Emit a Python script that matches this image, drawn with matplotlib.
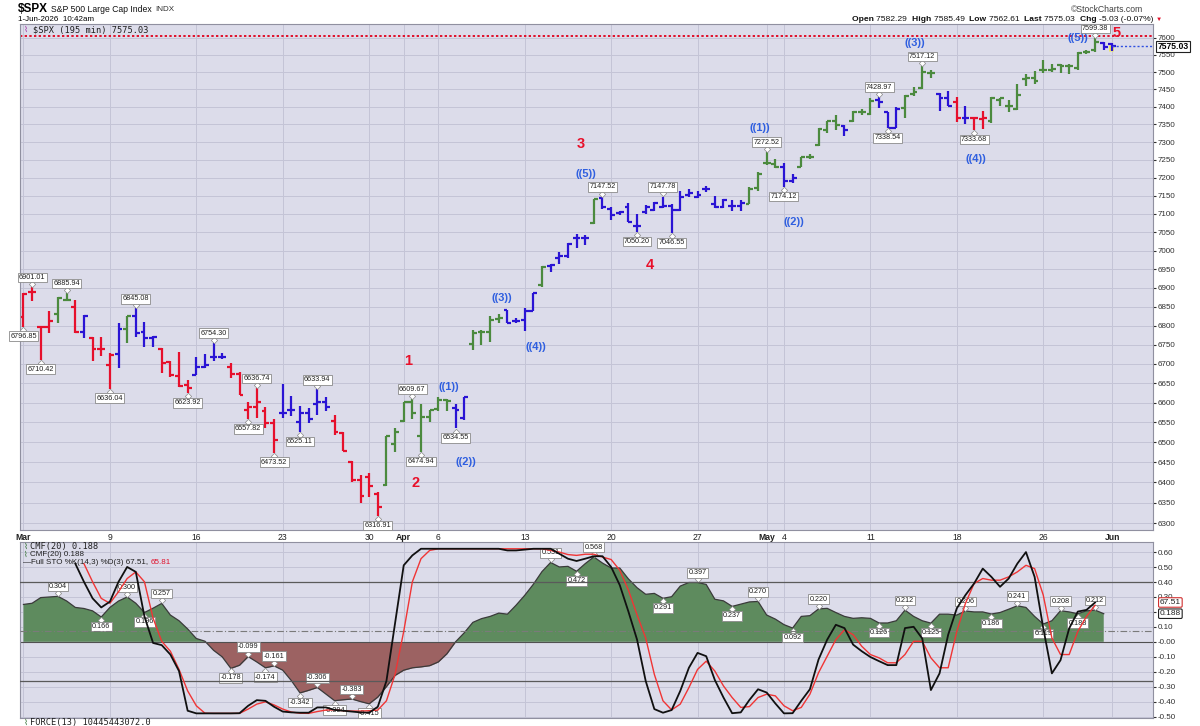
import matplotlib
matplotlib.use("Agg")
import matplotlib.pyplot as plt
from matplotlib.ticker import NullLocator, NullFormatter
from matplotlib.transforms import offset_copy
import numpy as np
import pandas as pd

plt.rcParams['font.family'] = ['Liberation Sans', 'DejaVu Sans']

###############################################################################
# data (195 min bars, 2 per session)

opens = [6822, 6890, 6797, 6797, 6831, 6868, 6849, 6784, 6767, 6738,
         6696, 6725, 6792, 6826, 6784, 6767, 6738, 6705, 6669, 6646,
         6671, 6692, 6719, 6719, 6692, 6673, 6582, 6590, 6578, 6548,
         6574, 6582, 6550, 6574, 6598, 6602, 6554, 6523, 6451, 6405,
         6414, 6372, 6394, 6495, 6554, 6602, 6515, 6563,
         6584, 6606, 6586, 6560, 6752, 6784, 6784, 6817, 6840, 6813,
         6815, 6839, 6907, 6958, 6979, 6984, 7033, 7035, 7075, 7144,
         7114, 7103, 7118, 7068, 7105, 7110, 7120, 7122, 7110, 7153,
         7147, 7168, 7126, 7120, 7122, 7122, 7128, 7172, 7240, 7238,
         7229, 7191, 7231, 7258, 7292, 7334, 7361, 7345, 7359, 7386,
         7379, 7420, 7384, 7340, 7396, 7438, 7453, 7498, 7438, 7426,
         7415, 7367, 7367, 7364, 7359, 7420, 7402, 7394, 7480, 7484,
         7505, 7507, 7520, 7517, 7513, 7559, 7566, 7586, 7582.29]
highs = [6886, 6901.01, 6800, 6838, 6876, 6885.94, 6868, 6829, 6771, 6771,
         6727, 6807, 6826, 6845.08, 6810, 6773, 6741, 6708, 6732, 6659,
         6719, 6725, 6754.30, 6727, 6703, 6680, 6602, 6636.74, 6590, 6558,
         6648, 6617, 6592, 6586, 6633.94, 6615, 6570, 6525, 6454, 6418,
         6424, 6376, 6515, 6536, 6602, 6609.67, 6598, 6582,
         6614, 6610, 6596, 6614, 6788, 6788, 6824, 6831, 6842, 6819,
         6845, 6885, 6958, 6965, 6997, 7021, 7046, 7042, 7140, 7147.52,
         7118, 7109, 7131, 7101, 7125, 7134, 7147.78, 7126, 7163, 7168,
         7163, 7176, 7148, 7142, 7137, 7137, 7174, 7216, 7272.52, 7251,
         7242, 7210, 7259, 7267, 7340, 7361, 7377, 7347, 7388, 7394,
         7425, 7428.97, 7386, 7400, 7435, 7456, 7517.12, 7505, 7441, 7447,
         7429, 7402, 7371, 7388, 7429, 7426, 7420, 7465, 7494, 7503,
         7535, 7525, 7525, 7525, 7559, 7566, 7599.38, 7589, 7585.49]
lows = [6796.85, 6864, 6710.42, 6781, 6807, 6866, 6781, 6767, 6708, 6720,
        6636.04, 6690, 6755, 6771, 6743, 6743, 6676, 6667, 6641, 6623.92,
        6671, 6688, 6708, 6712, 6663, 6619, 6557.82, 6562, 6536, 6473.52,
        6562, 6566, 6525.11, 6548, 6568, 6580, 6517, 6478, 6401, 6350,
        6364, 6316.91, 6392, 6476, 6552, 6558, 6474.94, 6550,
        6578, 6578, 6534.55, 6555, 6736, 6749, 6758, 6806, 6806, 6806,
        6786, 6838, 6902, 6943, 6963, 6979, 7006, 7015, 7073, 7114,
        7083, 7098, 7079, 7050.20, 7100, 7108, 7115, 7046.55, 7108, 7147,
        7145, 7160, 7115, 7115, 7108, 7109, 7126, 7163, 7235, 7226,
        7174.12, 7184, 7230, 7251, 7290, 7327, 7334, 7317, 7357, 7377,
        7377, 7397, 7338.54, 7339, 7369, 7432, 7450, 7484, 7388, 7402,
        7357, 7351, 7333.68, 7338, 7354, 7402, 7386, 7391, 7461, 7466,
        7498, 7501, 7498, 7495, 7505, 7554, 7559, 7564, 7562.61]
closes = [6883, 6888, 6795, 6811, 6874, 6868, 6784, 6826, 6738, 6738,
          6724, 6792, 6826, 6780, 6767, 6770, 6703, 6671, 6643, 6638,
          6692, 6696, 6719, 6717, 6673, 6621, 6590, 6602, 6548, 6505,
          6574, 6582, 6574, 6558, 6602, 6590, 6525, 6479, 6405, 6367,
          6392, 6340, 6515, 6525, 6602, 6574, 6563, 6582,
          6606, 6605, 6582, 6614, 6780, 6784, 6815, 6819, 6807, 6813,
          6838, 6885, 6956, 6960, 6984, 7017, 7033, 7035, 7140, 7118,
          7098, 7105, 7079, 7068, 7118, 7131, 7122, 7110, 7147, 7158,
          7153, 7168, 7120, 7137, 7122, 7130, 7168, 7210, 7240, 7229,
          7191, 7199, 7258, 7258, 7336, 7359, 7348, 7334, 7384, 7386,
          7418, 7415, 7340, 7394, 7432, 7444, 7501, 7498, 7424, 7402,
          7367, 7369, 7367, 7367, 7424, 7424, 7402, 7435, 7484, 7474,
          7505, 7510, 7517, 7517, 7556, 7559, 7589, 7574, 7575.03]
# r = falling, g = rising, b = neutral, y = live bar
bar_colors = ("rrrrggrbrr" "rbgbbbrrrr" "bbbbrrrrrr" "bbbbbbrrrr" "rrgggggg"
              "ggbbggggbb" "bbgbbbbbgb" "bbbbbbbbbb" "bbbbbbgggg" "bbgggggbgg"
              "gbbbggggbb" "rbrrgggggg" "gggggggby")

hi_labels = [(1, 6901.01), (5, 6885.94), (13, 6845.08), (22, 6754.30),
             (27, 6636.74), (34, 6633.94), (45, 6609.67), (67, 7147.52),
             (74, 7147.78), (86, 7272.52), (99, 7428.97), (104, 7517.12),
             (124, 7599.38)]
lo_labels = [(0, 6796.85), (2, 6710.42), (10, 6636.04), (19, 6623.92),
             (26, 6557.82), (29, 6473.52), (32, 6525.11), (41, 6316.91),
             (46, 6474.94), (50, 6534.55), (71, 7050.20), (75, 7046.55),
             (88, 7174.12), (100, 7338.54), (110, 7333.68)]

# elliott wave counts: (bar, price, text)
wave_major = [(44.5, 6707, '1'), (45.4, 6398, '2'), (64.5, 7294, '3'),
              (72.5, 6960, '4'), (126.5, 7614, '5')]
wave_minor = [(49.2, 6640, '((1))'), (51.2, 6450, '((2))'), (55.3, 6872, '((3))'),
              (59.3, 6743, '((4))'), (65.1, 7210, '((5))'), (85.2, 7340, '((1))'),
              (89.2, 7078, '((2))'), (103.1, 7585, '((3))'), (110.2, 7252, '((4))'),
              (122.0, 7600, '((5))')]
resistance = 7607

cmf = [0.25, 0.258, 0.296, 0.30, 0.304, 0.273, 0.23, 0.223, 0.207, 0.166,
       0.23, 0.273, 0.300, 0.258, 0.196, 0.225, 0.257, 0.179, 0.141, 0.086,
       0.022, 0.004, -0.057, -0.101, -0.178, -0.157, -0.099, -0.135, -0.174, -0.161,
       -0.19, -0.26, -0.342, -0.325, -0.306, -0.35, -0.394, -0.388, -0.383, -0.40,
       -0.415, -0.37, -0.30, -0.225, -0.19, -0.174, -0.168, -0.16,
       -0.135, -0.08, 0.0, 0.06, 0.13, 0.155, 0.17, 0.192, 0.185, 0.245,
       0.311, 0.385, 0.47, 0.531, 0.501, 0.505, 0.472, 0.523, 0.568, 0.527,
       0.494, 0.494, 0.421, 0.362, 0.318, 0.324, 0.291, 0.302, 0.373, 0.397,
       0.397, 0.384, 0.285, 0.274, 0.237, 0.252, 0.267, 0.270, 0.179, 0.152,
       0.115, 0.092, 0.17, 0.175, 0.220, 0.224, 0.196, 0.17, 0.157, 0.161,
       0.157, 0.126, 0.126, 0.141, 0.212, 0.17, 0.141, 0.125, 0.185, 0.185,
       0.179, 0.206, 0.20, 0.20, 0.186, 0.196, 0.218, 0.241, 0.23, 0.17,
       0.119, 0.141, 0.208, 0.20, 0.188, 0.207, 0.212, 0.188]
cmf_labels = [(4, 0.304, 1), (9, 0.166, 0), (12, 0.300, 1), (14, 0.196, 0),
              (16, 0.257, 1), (24, -0.178, 0), (26, -0.099, 1), (28, -0.174, 0),
              (29, -0.161, 1), (32, -0.342, 0), (34, -0.306, 1), (36, -0.394, 0),
              (38, -0.383, 1), (40, -0.415, 0), (61, 0.531, 1), (64, 0.472, 0),
              (66, 0.568, 1), (74, 0.291, 0), (78, 0.397, 1), (82, 0.237, 0),
              (85, 0.270, 1), (89, 0.092, 0), (92, 0.220, 1), (99, 0.126, 0),
              (102, 0.212, 1), (105, 0.125, 0), (109, 0.206, 1), (112, 0.186, 0),
              (115, 0.241, 1), (118, 0.119, 0), (120, 0.208, 1), (122, 0.188, 0),
              (124, 0.212, 1)]

sto_k_start = 6
sto_k = [91, 80, 70, 64.5, 68, 80, 89, 86, 59, 43, 41.7, 36, 26, 2,
         0.4, 0.4, 0.4, 0.4, 0.4, 0.5, 5, 8.4, 8, 4.4, 1.5, 1, 0.8, 0.8, 4, 4,
         2.5, 2, 1.5, 1, 0.8, 4.4, 20, 55, 90, 96, 100, 100, 100, 100, 100,
         100, 100, 100, 100, 100, 99, 99, 99.5, 100, 100, 100, 97, 94, 92.6, 94,
         95.5, 95.5, 89, 78, 62, 45, 20, 3, 0.8, 2.4, 14, 28, 37, 35, 20.6,
         10, 0.5, 1, 8.5, 15, 13, 6.4, 0.4, 0.5, 8, 15, 33, 45, 54, 52,
         42, 38, 34.5, 32, 29.6, 29.6, 52, 52.8, 45.7, 14.5, 24.6, 48, 64, 72,
         79, 88, 83, 77, 82, 91, 98, 83, 52, 24.6, 32.6, 51.8, 62, 63, 67.51]
sto_d_start = 7
sto_d = [91, 80, 70, 67, 74, 82, 86, 80, 58, 44, 38, 27, 14, 5, 0.5,
         0.4, 0.4, 0.4, 0.4, 3, 6, 7.4, 5.5, 3, 1.2, 0.5, 0.4, 1.5, 2.4, 2.5,
         2, 1.8, 1.8, 2, 2.4, 8, 24, 50, 80, 94, 99, 100, 100, 100, 100, 100,
         100, 100, 100, 100, 100, 100, 100, 100, 99, 98, 96.5, 96, 96.7, 96.7,
         95, 93.5, 87, 75, 60, 46, 24, 8, 2.5, 6, 16, 27, 32, 26, 17, 10,
         4, 4.5, 10, 12, 11, 5, 2, 4, 12, 25, 35, 45, 51, 48, 41, 36, 34,
         31, 31, 36, 44, 44, 34, 28, 28, 50, 67, 79, 82, 81, 81, 83, 86, 90,
         88, 72, 46, 36, 36, 50, 59, 65.81]

holidays = ['2026-04-03', '2026-05-25']

###############################################################################

W, H = 1200, 726
BG = '#dcdcea'
GRID = '#c4c4d6'
COLS = {'r': '#e6102c', 'g': '#4b8a3e', 'b': '#2a14d4', 'y': '#2a14d4'}


def fx(px):
    return px / W


def fy(py):
    return 1 - py / H


def text_run(x0, y0, parts, **kw):
    """draws text pieces one after another, returns end x in pixels"""
    r = fig.canvas.get_renderer()
    xp = x0
    for s, extra in parts:
        opts = dict(kw)
        opts.update(extra)
        t = fig.text(fx(xp), fy(y0), s, va='center', **opts)
        xp += t.get_window_extent(r).width
    return xp


def value_label(axis, i, v, fmt, up):
    """boxed value with the little diamond pointer, stockcharts style"""
    lab_box = dict(boxstyle='square,pad=0.18', fc='white', ec='#8a8a8a', lw=0.6)
    dy = 2.2 if up else -2.2
    tr = offset_copy(axis.transData, fig=fig, x=0, y=dy, units='points')
    axis.plot([i], [v], marker='D', ms=3.2, mfc='white', mec='#8a8a8a', mew=0.5,
              transform=tr, zorder=4)
    axis.annotate(fmt % v, (i, v), xytext=(0, 7 if up else -6.8), textcoords='offset points',
                  ha='center', va='center', fontsize=5.2, color='#202020', bbox=lab_box, zorder=5)


n = len(closes)
x = np.arange(n)
cols = [COLS[c] for c in bar_colors]

days = pd.bdate_range('2026-03-02', '2026-06-01')
days = days[~days.isin(pd.to_datetime(holidays))]
bar_days = pd.to_datetime(np.repeat(days.values, 2)[:n])

tick_pos, tick_lab, tick_bold = [], [], []
for i in range(n):
    d = bar_days[i]
    if i == 0:
        tick_pos.append(i); tick_lab.append(d.strftime('%b')); tick_bold.append(True)
        continue
    p = bar_days[i - 1]
    if d == p:
        continue
    if d.month != p.month:
        tick_pos.append(i); tick_lab.append(d.strftime('%b')); tick_bold.append(True)
    elif d.isocalendar()[1] != p.isocalendar()[1]:
        tick_pos.append(i); tick_lab.append(str(d.day)); tick_bold.append(False)

fig = plt.figure(figsize=(12, 7.26), dpi=100)
fig.set_facecolor('white')

ax = fig.add_axes([fx(20), fy(530), fx(1153 - 20), (530 - 24) / H])
axl = fig.add_axes([fx(20), fy(718), fx(1153 - 20), (718 - 542) / H])

xmin, xmax = -0.4, 130.7

# ---------------- price panel
ax.set_facecolor(BG)
ax.set_yscale('log')
ax.set_ylim(6283, 7641)
ax.set_xlim(xmin, xmax)
ax.set_yticks(np.arange(6300, 7601, 50))
ax.yaxis.set_minor_locator(NullLocator())
ax.yaxis.set_minor_formatter(NullFormatter())
ax.set_yticklabels([str(v) for v in range(6300, 7601, 50)])
ax.yaxis.tick_right()
ax.tick_params(axis='y', labelsize=5.8, length=2, pad=1.5, colors='#303030')
ax.set_xticks(tick_pos)
ax.set_xticklabels(tick_lab)
ax.tick_params(axis='x', labelsize=6.2, length=0, pad=2.5, colors='#202020')
for t, b in zip(ax.get_xticklabels(), tick_bold):
    if b:
        t.set_fontweight('bold')
ax.grid(True, color=GRID, lw=0.7)
ax.set_axisbelow(True)
for s in ax.spines.values():
    s.set_color('#9090a0')
    s.set_linewidth(0.8)

ax.vlines(x, lows, highs, colors=cols, lw=1.6)
ax.hlines(opens, x - 0.45, x, colors=cols, lw=1.6)
ax.hlines(closes, x, x + 0.45, colors=cols, lw=1.6)
# live bar highlight
ax.vlines(x[-1] - 0.2, lows[-1], (opens[-1] + closes[-1]) / 2, colors='#f2ea5a', lw=3.5, zorder=1.5)

ax.axhline(resistance, color='#e0102a', ls=(0, (1.2, 1.2)), lw=1.4)
ax.hlines(closes[-1], x[-1], xmax, colors='#3050e0', linestyles=(0, (1.5, 1.5)), lw=1)
ax.text(1.004, closes[-1], '%.2f' % closes[-1], transform=ax.get_yaxis_transform(),
        fontsize=6.2, fontweight='bold', va='center', ha='left',
        bbox=dict(boxstyle='square,pad=0.15', fc='white', ec='#202020', lw=0.8))

for i, v in hi_labels:
    value_label(ax, i, v, '%.2f', True)
for i, v in lo_labels:
    value_label(ax, i, v, '%.2f', False)

for i, v, s in wave_major:
    ax.text(i, v, s, color='#e8102a', fontsize=10.5, fontweight='bold', ha='center', va='center')
for i, v, s in wave_minor:
    ax.text(i, v, s, color='#2f5fe0', fontsize=8, fontweight='bold', ha='center', va='center')

# ---------------- indicator panel
axl.set_facecolor(BG)
axl.set_xlim(xmin, xmax)
axl.set_ylim(-0.51, 0.668)

xc = np.arange(len(cmf))
cmf_a = np.array(cmf)
axl.fill_between(xc, cmf_a, 0, where=cmf_a >= 0, interpolate=True, color='#5e8b5e', lw=0)
axl.fill_between(xc, cmf_a, 0, where=cmf_a <= 0, interpolate=True, color='#9c6262', lw=0)
axl.plot(xc, cmf_a, color='#3a3a3a', lw=0.9)
axl.axhline(0, color='#505050', lw=0.8)

for i, v, up in cmf_labels:
    value_label(axl, i, v, '%.3f', up)

ax2 = axl.twinx()
ax2.set_ylim(-2.4, 104.1)
ax2.set_yticks([])
for s in ax2.spines.values():
    s.set_visible(False)
ax2.axhline(80, color='#5a5a5a', lw=0.9)
ax2.axhline(20, color='#5a5a5a', lw=0.9)
ax2.axhline(50, color='#7a7a7a', lw=0.8, ls=(0, (6, 2, 1, 2)))
ax2.plot(np.arange(len(sto_d)) + sto_d_start, sto_d, color='#f03535', lw=1.0)
ax2.plot(np.arange(len(sto_k)) + sto_k_start, sto_k, color='#101010', lw=1.3)
ax2.text(1.006, sto_k[-1], '%.2f' % sto_k[-1], transform=ax2.get_yaxis_transform(),
         fontsize=6, va='center', ha='left', color='#202020',
         bbox=dict(boxstyle='round,pad=0.15', fc='white', ec='#d03030', lw=0.8))

# ticks of the cmf axis go on the right (twinx moved them left)
yt = np.round(np.arange(-0.5, 0.61, 0.1), 2)
axl.set_yticks(yt)
axl.set_yticklabels(['%.2f' % v for v in yt])
axl.yaxis.tick_right()
axl.yaxis.set_label_position('right')
axl.tick_params(axis='y', labelsize=5.8, length=2, pad=1.5, colors='#303030',
                left=False, labelleft=False, right=True, labelright=True)
axl.set_xticks(tick_pos)
axl.set_xticklabels([])
axl.tick_params(axis='x', length=0)
axl.grid(True, color=GRID, lw=0.7)
axl.set_axisbelow(True)
for s in axl.spines.values():
    s.set_color('#9090a0')
    s.set_linewidth(0.8)
axl.text(1.006, cmf[-1], '%.3f' % cmf[-1], transform=axl.get_yaxis_transform(),
         fontsize=6, va='center', ha='left', color='#202020', zorder=5,
         bbox=dict(boxstyle='round,pad=0.15', fc='white', ec='#202020', lw=0.8))

# ---------------- header and legends
xe = text_run(18, 9, [('$SPX', dict(fontsize=8.5, fontweight='bold'))])
xe = text_run(xe + 3, 9.5, [('S&P 500 Large Cap Index', dict(fontsize=6.2))], color='#101010')
text_run(xe + 4, 9.5, [('INDX', dict(fontsize=5.8))], color='#303030')
fig.text(fx(18), fy(19.5), '1-Jun-2026  10:42am', fontsize=5.8, va='center')
fig.text(fx(1143), fy(9), '\u00a9StockCharts.com', fontsize=6.2, va='center', ha='right', color='#404040')

B = dict(fontweight='bold')
N = dict()
xe = text_run(852, 19.5, [('Open ', B), ('%.2f  ' % opens[-1], N), ('High ', B), ('%.2f  ' % highs[-1], N),
                          ('Low ', B), ('%.2f  ' % lows[-1], N), ('Last ', B), ('%.2f  ' % closes[-1], N),
                          ('Chg ', B), ('-5.03 (-0.07%)', N)], fontsize=6.1, color='#101010')
fig.text(fx(xe + 3), fy(19.5), '\u25bc', fontsize=4.5, va='center', color='#e0102a')

fig.text(fx(24), fy(30), '\u2307', fontsize=6, va='center', color='#a030a0')
fig.text(fx(33), fy(30), '$SPX (195 min) %.2f' % closes[-1], fontsize=6.2, va='center',
         family='DejaVu Sans Mono', color='#202020')

fig.text(fx(24), fy(547), '\u2307', fontsize=6, va='center', color='#2e6e2e')
fig.text(fx(30), fy(547), 'CMF(20) %.3f' % cmf[-1], fontsize=6.2, va='center',
         family='DejaVu Sans Mono', color='#202020')
fig.text(fx(24), fy(555), '\u2307', fontsize=5.5, va='center', color='#2e6e2e')
fig.text(fx(30), fy(555), 'CMF(20) %.3f' % cmf[-1], fontsize=5.8, va='center', color='#202020')
fig.text(fx(23), fy(563), '\u2014', fontsize=6, va='center', color='#101010')
text_run(31, 563, [('Full STO %%K(14,3) %%D(3) %.2f, ' % sto_k[-1], dict(color='#202020')),
                   ('%.2f' % sto_d[-1], dict(color='#e0102a'))], fontsize=5.8)
fig.text(fx(24), fy(723), '\u2307', fontsize=6, va='center', color='#2e6e2e')
fig.text(fx(30), fy(723), 'FORCE(13) 10445443072.0', fontsize=6.2, va='center',
         family='DejaVu Sans Mono', color='#202020')

fig.savefig('out.png', dpi=100, facecolor='white')
